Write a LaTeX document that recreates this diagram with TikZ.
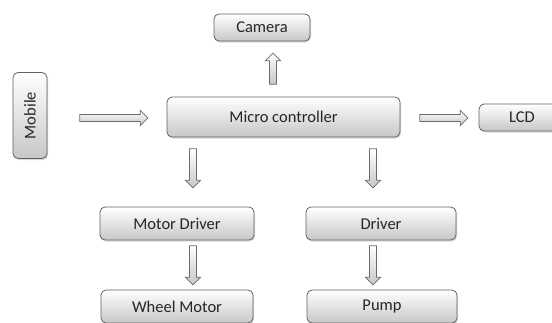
\documentclass[tikz,border=0pt]{standalone}
\usepackage{fontspec}
\setmainfont{Carlito}
\usetikzlibrary{shapes.arrows,shadows,calc}

% hollow block arrow from one named point to another
\newcommand\blockarrow[2]{%
  \path let \p1=(#1), \p2=(#2),
    \n1={atan2(\y2-\y1,\x2-\x1)}, \n2={veclen(\x2-\x1,\y2-\y1)} in
    node[barrow, anchor=tail, rotate=\n1, minimum height=\n2] at (\p1) {};}

\begin{document}
\begin{tikzpicture}[x=1pt,y=-1pt,
  box/.style={draw=black!62, line width=0.8pt, rounded corners=5pt,
    top color=white, bottom color=black!22, inner sep=0pt,
    drop shadow={shadow xshift=1pt, shadow yshift=-1.5pt, opacity=0.3},
    font=\fontsize{16.5}{19}\selectfont, text=black!85},
  barrow/.style={single arrow, draw=black!58, line width=0.7pt,
    top color=white, bottom color=black!22, inner xsep=0pt, inner ysep=3.2pt,
    single arrow head extend=4.2pt}]

\useasboundingbox (0,0) rectangle (552,322);

% blocks
\node[box, minimum width=96, minimum height=27] (cam) at (262,27.5) {Camera};
\node[box, minimum width=233, minimum height=40] (mc) at (283.5,117) {Micro controller};
\node[box, rotate=90, minimum width=86, minimum height=34] (mob) at (30,115.5) {Mobile};
\node[box, minimum width=86, minimum height=27] (lcd) at (522,117.5) {LCD};
\node[box, minimum width=154, minimum height=33] (md) at (177,223.5) {Motor Driver};
\node[box, minimum width=150, minimum height=33] (drv) at (381,223.5) {Driver};
\node[box, minimum width=152, minimum height=33] (wm) at (177,306.5) {Wheel Motor};
\node[box, minimum width=150, minimum height=33] (pump) at (382,306.5) {Pump};

% arrow end points
\coordinate (a1) at ($(mob.south)+(32,2.5)$);
\coordinate (a2) at ($(mc.west)+(-19,1)$);
\coordinate (b1) at ($(mc.east)+(19,1)$);
\coordinate (b2) at ($(lcd.west)+(-11,0.5)$);
\coordinate (c1) at ($(mc.north)+(-10.5,-12)$);
\coordinate (c2) at ($(cam.south)+(11,12)$);
\coordinate (d1) at ($(mc.south)+(-90.5,11)$);
\coordinate (d2) at ($(md.north)+(16,-19)$);
\coordinate (e1) at ($(mc.south)+(89.5,11)$);
\coordinate (e2) at ($(drv.north)+(-8,-19)$);
\coordinate (f1) at ($(md.south)+(16,5)$);
\coordinate (f2) at ($(wm.north)+(16,-5)$);
\coordinate (g1) at ($(drv.south)+(-8,5)$);
\coordinate (g2) at ($(pump.north)+(-9,-5)$);

% connectors
\blockarrow{a1}{a2}
\blockarrow{b1}{b2}
\blockarrow{c1}{c2}
\blockarrow{d1}{d2}
\blockarrow{e1}{e2}
\blockarrow{f1}{f2}
\blockarrow{g1}{g2}
\end{tikzpicture}
\end{document}
